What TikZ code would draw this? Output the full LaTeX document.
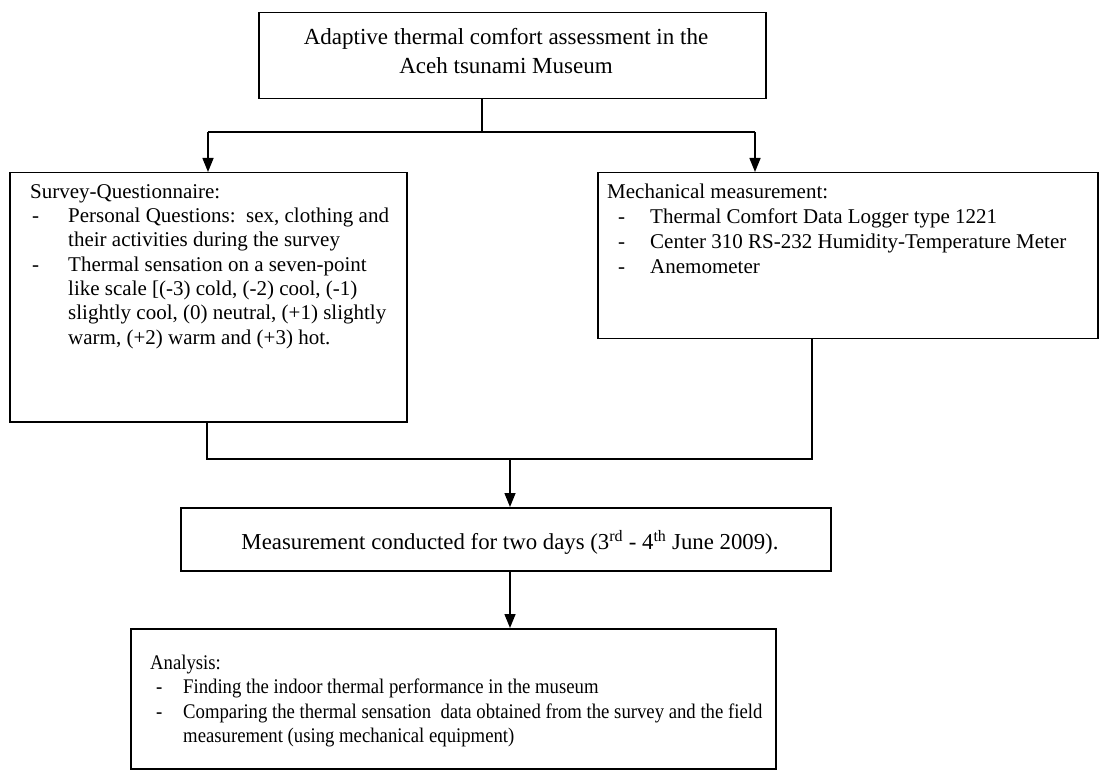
\documentclass[tikz,border=0pt]{standalone}
\usepackage{fontspec}
\setmainfont{Liberation Serif}
\newfontfamily\narrowserif[FakeStretch=0.9]{Liberation Serif}
\usetikzlibrary{arrows.meta}
\begin{document}
\begin{tikzpicture}[x=1pt,y=-1pt,
  box/.style={draw, line width=1.5pt, anchor=north west, inner sep=0pt},
  txt/.style={inner sep=0pt, font=\fontsize{21}{24.3}\selectfont},
  conn/.style={line width=1.5pt},
  arr/.style={line width=1.5pt, -{Triangle[length=14pt,width=11pt]}}]
\newcommand{\dsh}{\hspace*{2pt}-}
\useasboundingbox (0,0) rectangle (1105,775);
% boxes
\node[box, minimum width=507pt, minimum height=86pt] (top) at (258,12) {};
\node[box, minimum width=397pt, minimum height=249pt] (left) at (9,172) {};
\node[box, minimum width=500pt, minimum height=166pt] (right) at (597,172) {};
\node[box, minimum width=650pt, minimum height=63pt] (mid) at (180,507) {};
\node[box, minimum width=645pt, minimum height=140pt] (ana) at (130,628) {};
% texts
\node[txt, align=center, anchor=base, font=\fontsize{23}{29}\selectfont] (toptext) at (506,74)
  {Adaptive thermal comfort assessment in the\\Aceh tsunami Museum};
\node[txt, anchor=north west] (lefttext) at (30,181) {%
  \renewcommand\arraystretch{1}%
  \begin{tabular}{@{}p{38pt}@{}l@{}}
  \multicolumn{2}{@{}l@{}}{Survey-Questionnaire:}\\
  \dsh & Personal Questions:\ \ sex, clothing and\\
     & their activities during the survey\\
  \dsh & Thermal sensation on a seven-point\\
     & like scale [(-3) cold, (-2) cool, (-1)\\
     & slightly cool, (0) neutral, (+1) slightly\\
     & warm, (+2) warm and (+3) hot.
  \end{tabular}};
\node[txt, anchor=north west, font=\fontsize{21}{25}\selectfont] (righttext) at (607,181) {%
  \renewcommand\arraystretch{1}%
  \begin{tabular}{@{}p{43pt}@{}l@{}}
  \multicolumn{2}{@{}l@{}}{Mechanical measurement:}\\
  \hspace*{11pt}- & Thermal Comfort Data Logger type 1221\\
  \hspace*{11pt}- & Center 310 RS-232 Humidity-Temperature Meter\\
  \hspace*{11pt}- & Anemometer
  \end{tabular}};
\node[txt, anchor=base, font=\fontsize{22.8}{26}\selectfont] (midtext) at (510,549)
  {Measurement conducted for two days (3\textsuperscript{rd} - 4\textsuperscript{th} June 2009).};
\node[txt, anchor=north west, font=\narrowserif\fontsize{20.8}{24.5}\selectfont] (anatext) at (150,652) {%
  \renewcommand\arraystretch{1}%
  \begin{tabular}{@{}p{33pt}@{}l@{}}
  \multicolumn{2}{@{}l@{}}{Analysis:}\\
  \hspace*{6pt}- & Finding the indoor thermal performance in the museum\\
  \hspace*{6pt}- & Comparing the thermal sensation\ \ data obtained from the survey and the field\\
     & measurement (using mechanical equipment)
  \end{tabular}};
% connector coordinates
\coordinate (j1) at (482,132);
\coordinate (la) at (208,132);
\coordinate (ra) at (755,132);
\coordinate (lb) at (207,459);
\coordinate (rb) at (812,459);
\coordinate (mb) at (510,459);
% connectors
\draw[conn] (top.south -| j1) -- (j1);
\draw[conn] (la) -- (ra);
\draw[arr] (la) -- (left.north -| la);
\draw[arr] (ra) -- (right.north -| ra);
\draw[conn] (left.south -| lb) -- (lb) -- (rb) -- (right.south -| rb);
\draw[arr] (mb) -- (mid.north -| mb);
\draw[arr] (mid.south -| mb) -- (ana.north -| mb);
\end{tikzpicture}
\end{document}
